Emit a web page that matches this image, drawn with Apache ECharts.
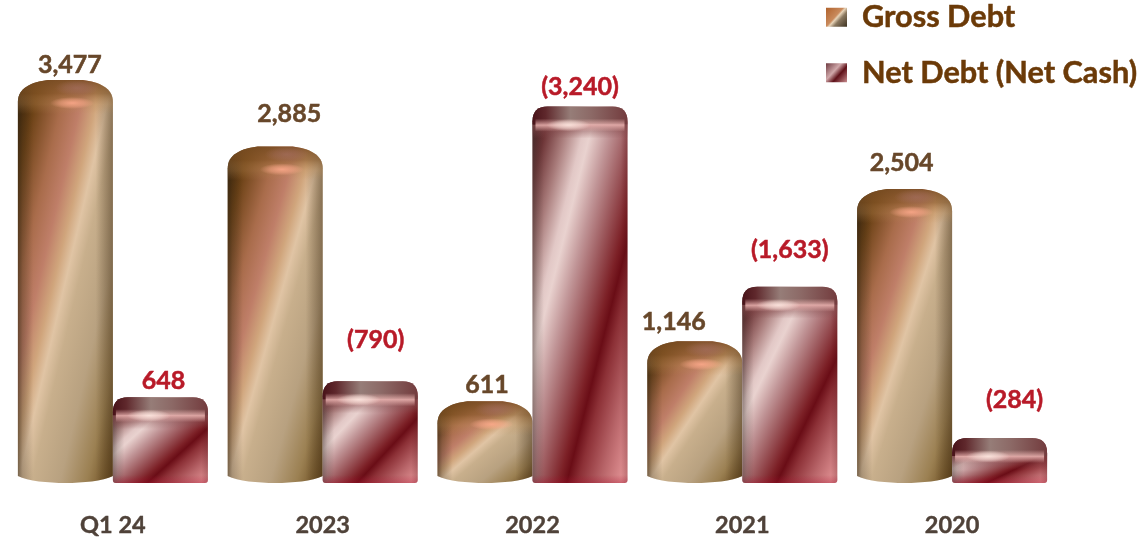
<!DOCTYPE html>
<html>
<head>
<meta charset="utf-8">
<style>html,body{margin:0;padding:0;background:#fff}#c{width:1143px;height:546px}</style>
<script src="https://cdn.jsdelivr.net/npm/echarts@6/dist/echarts.min.js"></script>
</head>
<body>
<div id="c"></div>
<script>
// Debt by period; a negative net debt is a net cash position, shown in brackets.
const periods = ['Q1 24', '2023', '2022', '2021', '2020'];
const grossDebt = [3477, 2885, 611, 1146, 2504];
const netDebt = [648, -790, -3240, -1633, -284];

// Hand placement of the value labels: horizontal nudge and lift above the bar top.
const grossLabelNudge = [4.5, 14, 2, -21, -3];
const grossLabelLift = [15, 32, 16, 19, 26];
const netLabelNudge = [3, 5.5, 0, 0, 15];
const netLabelLift = [16, 41, 20, 37, 38];

const FONT = 'Lato, "Open Sans", sans-serif';
const BAR_W = 95;
// The bars stand on a floor slightly below zero, so every bar keeps a visible plinth.
const AXIS_MIN = -118;
const AXIS_MAX = 4000;

function stops(list) {
  return list.map(function (s) { return { offset: s[0], color: s[1] }; });
}
function linear(x, y, x2, y2, list) {
  return { type: 'linear', x: x, y: y, x2: x2, y2: y2, global: true, colorStops: stops(list) };
}
// Gradient whose colour lines run parallel to the box's anti-diagonal, so the
// sheen always crosses from the lower-left corner to the upper-right corner.
function diagonal(x, y, w, h, list) {
  const k = 2 * w * h / (w * w + h * h);
  return linear(x, y, x + h * k, y + w * k, list);
}
function glow(cx, cy, rx, ry, color, alpha) {
  return {
    type: 'circle', x: cx, y: cy, scaleX: rx, scaleY: ry, silent: true,
    shape: { cx: 0, cy: 0, r: 1 },
    style: { fill: {
      type: 'radial', x: 0.5, y: 0.5, r: 0.5,
      colorStops: [
        { offset: 0, color: 'rgba(' + color + ',' + alpha + ')' },
        { offset: 0.55, color: 'rgba(' + color + ',' + alpha * 0.55 + ')' },
        { offset: 1, color: 'rgba(' + color + ',0)' }
      ]
    } }
  };
}
// A path layer; the box must equal the path's own bounds because ECharts fits the path to it.
function layer(pathData, box, fill) {
  return {
    type: 'path', silent: true,
    shape: { pathData: pathData, x: box.x, y: box.y, width: box.w, height: box.h },
    style: { fill: fill }
  };
}
function valueText(text, x, y, color) {
  return {
    type: 'text', silent: true,
    style: { text: text, x: x, y: y, textAlign: 'center', textVerticalAlign: 'middle',
      fill: color, stroke: color, lineWidth: 0.5,
      fontFamily: FONT, fontWeight: 'bold', fontSize: 25 }
  };
}
// Domed top and slightly curved foot of the cylinder-like bars.
function domePath(x, y, w, h) {
  const b = y + h, r = x + w;
  const dome = Math.min(22, h * 0.3), foot = 7;
  return 'M' + x + ' ' + (y + dome) +
    'C' + x + ' ' + (y + dome * 0.35) + ' ' + (x + 14) + ' ' + (y + 2) + ' ' + (x + 30) + ' ' + y +
    'L' + (r - 30) + ' ' + y +
    'C' + (r - 14) + ' ' + (y + 2) + ' ' + r + ' ' + (y + dome * 0.35) + ' ' + r + ' ' + (y + dome) +
    'L' + r + ' ' + (b - foot) +
    'C' + (r - 10) + ' ' + (b - 2) + ' ' + (r - 30) + ' ' + b + ' ' + (x + w / 2) + ' ' + b +
    'C' + (x + 30) + ' ' + b + ' ' + (x + 10) + ' ' + (b - 2) + ' ' + x + ' ' + (b - foot) + 'Z';
}
// Rounded-shoulder box used for the net debt bars.
function boxPath(x, y, w, h) {
  const b = y + h, r = x + w, c = 15, f = 3;
  return 'M' + x + ' ' + (y + c) +
    'Q' + x + ' ' + y + ' ' + (x + c) + ' ' + y +
    'L' + (r - c) + ' ' + y +
    'Q' + r + ' ' + y + ' ' + r + ' ' + (y + c) +
    'L' + r + ' ' + (b - f) +
    'Q' + r + ' ' + b + ' ' + (r - f) + ' ' + b +
    'L' + (x + f) + ' ' + b +
    'Q' + x + ' ' + b + ' ' + x + ' ' + (b - f) + 'Z';
}
// Upper shoulder of a net debt bar; its flat lower edge sits behind the pale stripe.
function shoulderPath(x, y, w, depth) {
  const r = x + w, c = 15, b = y + depth;
  return 'M' + x + ' ' + b + 'L' + x + ' ' + (y + c) +
    'Q' + x + ' ' + y + ' ' + (x + c) + ' ' + y +
    'L' + (r - c) + ' ' + y +
    'Q' + r + ' ' + y + ' ' + r + ' ' + (y + c) +
    'L' + r + ' ' + b + 'Z';
}
function bandPath(x, y, w, h) {
  return 'M' + x + ' ' + y + 'L' + (x + w) + ' ' + y + 'L' + (x + w) + ' ' + (y + h) + 'L' + x + ' ' + (y + h) + 'Z';
}

const grossStops = [[0, '#3a2004'], [0.12, '#6e4317'], [0.26, '#a96c4b'], [0.36, '#bf7e68'],
  [0.44, '#d0a57c'], [0.5, '#e0c4a4'], [0.57, '#c8af8c'], [0.72, '#b8a180'], [0.86, '#9b8052'], [1, '#644519']];
const netStops = [[0, '#3e1216'], [0.1, '#6d3436'], [0.2, '#a87b7a'], [0.3, '#e2c8c6'], [0.34, '#e9d2cf'],
  [0.44, '#c09496'], [0.54, '#9d5a5e'], [0.64, '#7c2026'], [0.68, '#6a0d16'], [0.74, '#8c3036'], [0.86, '#b9666a'], [1, '#ec9c9e']];

function renderGross(params, api) {
  const i = api.value(0), v = api.value(1);
  const top = api.coord([i, v]), base = api.coord([i, AXIS_MIN]);
  const x = top[0] - BAR_W, y = top[1], w = BAR_W, h = base[1] - top[1];
  const p = domePath(x, y, w, h), box = { x: x, y: y, w: w, h: h };
  const capH = 34;
  return { type: 'group', children: [
    layer(p, box, diagonal(x, y, w, h, grossStops)),
    layer(p, box, linear(x, 0, x + w, 0, [[0, 'rgba(50,38,20,0.6)'], [0.05, 'rgba(50,38,20,0.3)'], [0.16, 'rgba(50,38,20,0)'],
      [0.82, 'rgba(70,50,25,0)'], [1, 'rgba(70,50,25,0.5)']])),
    layer(p, box, linear(0, y, 0, y + capH, [[0, 'rgba(120,76,34,0.85)'], [0.4, 'rgba(135,88,40,0.6)'],
      [0.72, 'rgba(190,140,85,0.28)'], [1, 'rgba(190,140,85,0)']])),
    glow(x + w * 0.62, y + 8, 22, 8, '170,115,110', 0.5),
    glow(x + w * 0.57, y + 23, 22, 6, '255,170,140', 0.85),
    valueText(grossDebt[i].toLocaleString('en-US'), x + w / 2 + grossLabelNudge[i], y - grossLabelLift[i], '#67472a')
  ] };
}

function renderNet(params, api) {
  const i = api.value(0), v = api.value(1);
  const top = api.coord([i, Math.abs(v)]), base = api.coord([i, AXIS_MIN]);
  const x = top[0], y = top[1], w = BAR_W, h = base[1] - top[1];
  const p = boxPath(x, y, w, h), box = { x: x, y: y, w: w, h: h };
  const capH = 18;
  const raw = netDebt[i];
  const text = raw < 0 ? '(' + Math.abs(raw).toLocaleString('en-US') + ')' : raw.toLocaleString('en-US');
  const stripeY = y + capH - 6, stripeH = 13;
  const fadeH = 14;
  return { type: 'group', children: [
    layer(p, box, diagonal(x, y, w, h, netStops)),
    layer(p, box, linear(x, 0, x + w, 0, [[0, 'rgba(70,60,55,0.5)'], [0.05, 'rgba(70,60,55,0.22)'], [0.12, 'rgba(70,60,55,0)'],
      [0.93, 'rgba(90,20,25,0)'], [1, 'rgba(90,20,25,0.3)']])),
    // Soft fall-off from the shoulder into the bar body.
    layer(bandPath(x, y + capH, w, fadeH), { x: x, y: y + capH, w: w, h: fadeH },
      linear(0, y + capH, 0, y + capH + fadeH, [[0, 'rgba(130,72,74,0.75)'], [1, 'rgba(130,72,74,0)']])),
    layer(shoulderPath(x, y, w, capH), { x: x, y: y, w: w, h: capH },
      linear(x, 0, x + w, 0, [[0, 'rgba(72,18,24,1)'], [0.14, 'rgba(95,40,44,1)'], [0.4, 'rgba(150,125,120,1)'],
        [0.62, 'rgba(140,105,102,1)'], [1, 'rgba(115,60,62,1)']])),
    layer(bandPath(x + 3, stripeY, w - 6, stripeH), { x: x + 3, y: stripeY, w: w - 6, h: stripeH },
      linear(0, stripeY, 0, stripeY + stripeH, [[0, 'rgba(240,185,182,0)'], [0.5, 'rgba(240,185,182,0.8)'], [1, 'rgba(240,185,182,0)']])),
    glow(x + w * 0.38, stripeY + stripeH / 2, 22, 6, '255,238,230', 0.8),
    layer(p, box, linear(0, y + h - 8, 0, y + h, [[0, 'rgba(165,15,45,0)'], [1, 'rgba(165,15,45,0.35)']])),
    valueText(text, x + w / 2 + netLabelNudge[i], y - netLabelLift[i], '#b81a28')
  ] };
}

const chart = echarts.init(document.getElementById('c'), null, { renderer: 'canvas' });
chart.setOption({
  animation: false,
  backgroundColor: '#ffffff',
  legend: {
    left: 826, top: 1.5, padding: 0, orient: 'vertical', itemWidth: 21, itemHeight: 19, itemGap: 24,
    icon: 'rect', selectedMode: false,
    textStyle: { color: '#6b3a08', fontFamily: FONT, fontWeight: 'bold', fontSize: 30.7,
      textBorderColor: '#6b3a08', textBorderWidth: 0.5,
      padding: [0, 0, 0, 10], lineHeight: 21 },
    data: [
      { name: 'Gross Debt', itemStyle: { color: { type: 'linear', x: 0, y: 0, x2: 1, y2: 1,
        colorStops: stops([[0, '#b0622c'], [0.45, '#c98a5c'], [0.52, '#e8d4b8'], [0.65, '#8a7860'], [1, '#3c3220']]) } } },
      { name: 'Net Debt (Net Cash)', itemStyle: { color: { type: 'linear', x: 0, y: 0, x2: 1, y2: 1,
        colorStops: stops([[0, '#6e3a40'], [0.4, '#d0a8aa'], [0.62, '#5e1018'], [1, '#c88c8e']]) } } }
    ]
  },
  grid: { left: 8, width: 1049, top: 21.4, bottom: 63 },
  xAxis: {
    type: 'category', data: periods,
    axisLine: { show: false }, axisTick: { show: false },
    axisLabel: { color: '#4f4239', fontFamily: FONT, fontWeight: 'bold', fontSize: 23.5, margin: 30, interval: 0,
      textBorderColor: '#4f4239', textBorderWidth: 0.4 }
  },
  yAxis: { type: 'value', min: AXIS_MIN, max: AXIS_MAX, show: false },
  series: [
    { name: 'Gross Debt', type: 'custom', renderItem: renderGross, clip: false,
      encode: { x: 0, y: 1 }, data: grossDebt.map(function (v, i) { return [i, v]; }) },
    { name: 'Net Debt (Net Cash)', type: 'custom', renderItem: renderNet, clip: false,
      encode: { x: 0, y: 1 }, data: netDebt.map(function (v, i) { return [i, v]; }) }
  ]
});
</script>
</body>
</html>
